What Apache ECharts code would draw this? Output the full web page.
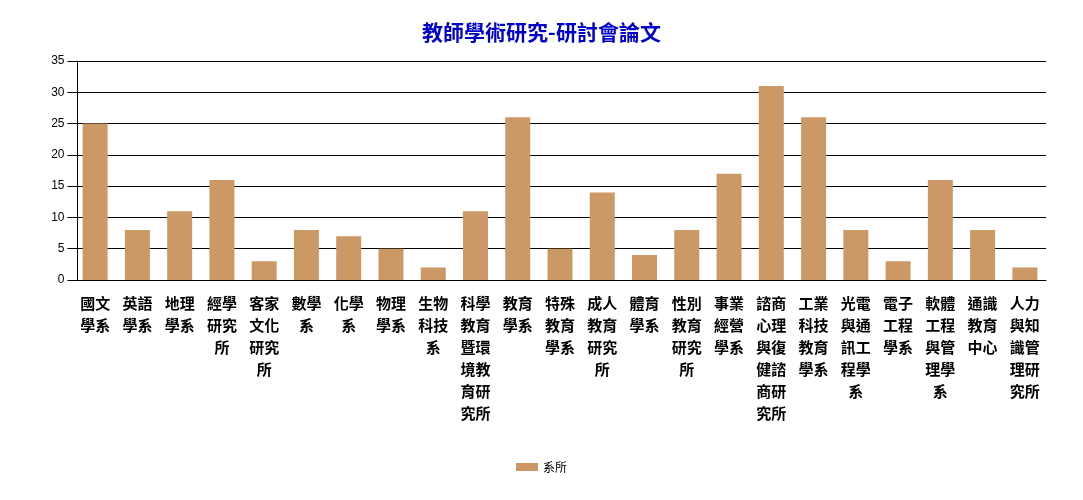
<!DOCTYPE html>
<html><head><meta charset="utf-8">
<script src="https://cdn.jsdelivr.net/npm/echarts@6/dist/echarts.min.js"></script>
<style>html,body{margin:0;padding:0;background:#fff}#c{width:1083px;height:500px}</style>
</head><body><div id="c"></div>
<script>
const categories = ["國文學系","英語學系","地理學系","經學研究所","客家文化研究所","數學系","化學系","物理學系","生物科技系","科學教育暨環境教育研究所","教育學系","特殊教育學系","成人教育研究所","體育學系","性別教育研究所","事業經營學系","諮商心理與復健諮商研究所","工業科技教育學系","光電與通訊工程學系","電子工程學系","軟體工程與管理學系","通識教育中心","人力與知識管理研究所"];
const values = [25,8,11,16,3,8,7,5,2,11,26,5,14,4,8,17,31,26,8,3,16,8,2];
const seriesName = "系所";
const titleText = "教師學術研究-研討會論文";

function wrap2(s){let o=[];for(let i=0;i<s.length;i+=2)o.push(s.slice(i,i+2));return o.join("\n");}

const chart = echarts.init(document.getElementById('c'));
chart.setOption({
  animation:false,
  title:{text:titleText,left:'center',top:17,textStyle:{color:'#0000CC',fontSize:21,fontWeight:'bold',fontFamily:'Noto Sans CJK TC'}},
  legend:{bottom:22,left:'center',icon:'rect',itemWidth:22,itemHeight:8,itemGap:6,textStyle:{fontSize:12,color:'#000',fontFamily:'Noto Sans CJK TC'},data:[seriesName]},
  grid:{left:74,right:37,top:61,bottom:220,containLabel:false},
  xAxis:{type:'category',data:categories,
    axisLine:{lineStyle:{color:'#000',width:1}},axisTick:{show:false},
    axisLabel:{interval:0,formatter:wrap2,color:'#000',fontSize:15,fontWeight:'bold',lineHeight:22,fontFamily:'Noto Sans CJK TC',margin:12}},
  yAxis:{type:'value',min:0,max:35,interval:5,offset:-3.5,
    axisLine:{show:true,lineStyle:{color:'#000'}},axisTick:{show:true,length:10,lineStyle:{color:'#000'}},
    axisLabel:{color:'#000',fontSize:12,margin:13,fontFamily:'Liberation Sans'},
    splitLine:{lineStyle:{color:'#000',width:1}}},
  series:[{name:seriesName,type:'bar',data:values,barWidth:25,itemStyle:{color:'#CC9966'}}]
});
</script></body></html>
